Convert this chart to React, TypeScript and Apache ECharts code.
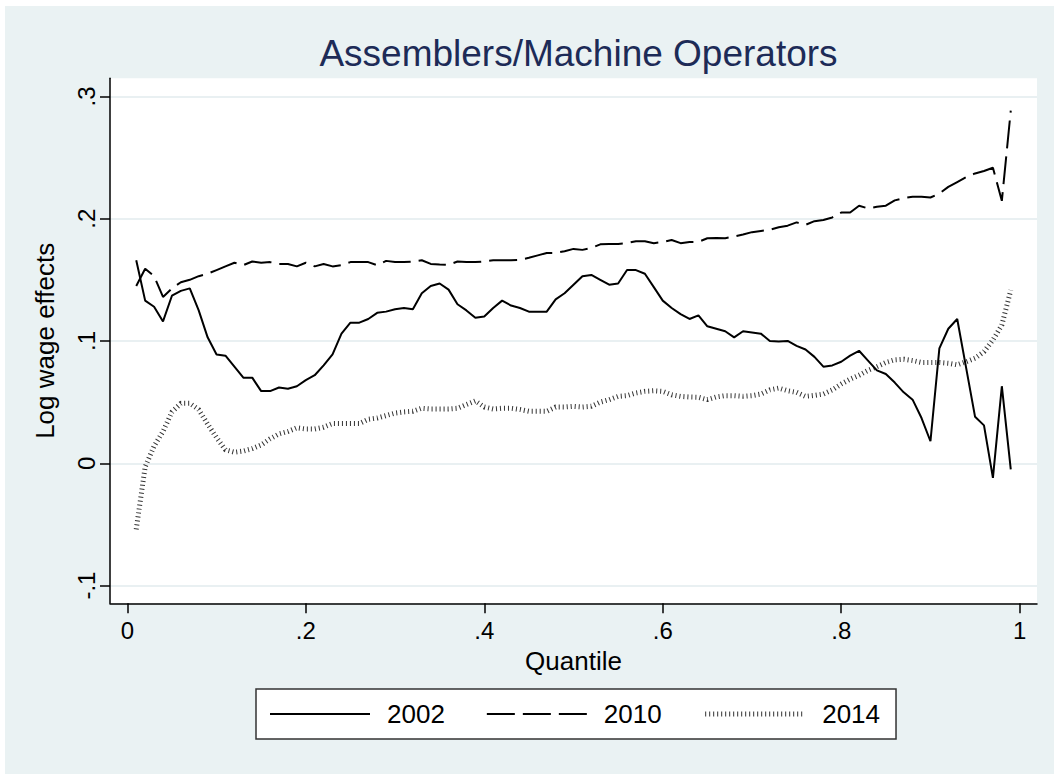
import React, { useEffect, useRef } from "react";
import * as echarts from "echarts";

const quantiles = [
  0.01, 0.02, 0.03, 0.04, 0.05, 0.06, 0.07, 0.08, 0.09, 0.1,
  0.11, 0.12, 0.13, 0.14, 0.15, 0.16, 0.17, 0.18, 0.19, 0.2,
  0.21, 0.22, 0.23, 0.24, 0.25, 0.26, 0.27, 0.28, 0.29, 0.3,
  0.31, 0.32, 0.33, 0.34, 0.35, 0.36, 0.37, 0.38, 0.39, 0.4,
  0.41, 0.42, 0.43, 0.44, 0.45, 0.46, 0.47, 0.48, 0.49, 0.5,
  0.51, 0.52, 0.53, 0.54, 0.55, 0.56, 0.57, 0.58, 0.59, 0.6,
  0.61, 0.62, 0.63, 0.64, 0.65, 0.66, 0.67, 0.68, 0.69, 0.7,
  0.71, 0.72, 0.73, 0.74, 0.75, 0.76, 0.77, 0.78, 0.79, 0.8,
  0.81, 0.82, 0.83, 0.84, 0.85, 0.86, 0.87, 0.88, 0.89, 0.9,
  0.91, 0.92, 0.93, 0.94, 0.95, 0.96, 0.97, 0.98, 0.99,
];

const y2002 = [
  0.166, 0.133, 0.128, 0.116, 0.137, 0.141, 0.143, 0.125, 0.103, 0.089,
  0.088, 0.079, 0.07, 0.07, 0.059, 0.059, 0.062, 0.061, 0.063, 0.068,
  0.072, 0.08, 0.089, 0.106, 0.115, 0.115, 0.118, 0.123, 0.124, 0.126,
  0.127, 0.126, 0.139, 0.145, 0.147, 0.142, 0.13, 0.125, 0.119, 0.12,
  0.127, 0.133, 0.129, 0.127, 0.124, 0.124, 0.124, 0.134, 0.139, 0.146,
  0.153, 0.154, 0.15, 0.146, 0.147, 0.158, 0.158, 0.155, 0.144, 0.133,
  0.127, 0.122, 0.118, 0.121, 0.112, 0.11, 0.108, 0.103, 0.108, 0.107,
  0.106, 0.1, 0.0995, 0.1, 0.096, 0.093, 0.087, 0.079, 0.08, 0.083,
  0.088, 0.092, 0.084, 0.076, 0.073, 0.066, 0.058, 0.052, 0.037, 0.018,
  0.094, 0.11, 0.118, 0.078, 0.038, 0.031, -0.012, 0.063, -0.005,
];

const y2010 = [
  0.145, 0.159, 0.153, 0.136, 0.143, 0.148, 0.15, 0.153, 0.155, 0.158,
  0.161, 0.164, 0.162, 0.165, 0.164, 0.1645, 0.163, 0.163, 0.161, 0.164,
  0.161, 0.163, 0.161, 0.162, 0.1645, 0.1645, 0.1645, 0.162, 0.1655, 0.1645,
  0.1645, 0.165, 0.166, 0.163, 0.1626, 0.1623, 0.165, 0.1645, 0.1645, 0.165,
  0.166, 0.166, 0.166, 0.1664, 0.168, 0.17, 0.172, 0.172, 0.1734, 0.1753,
  0.1745, 0.176, 0.179, 0.1794, 0.1794, 0.18, 0.1816, 0.1816, 0.18, 0.181,
  0.1826, 0.18, 0.181, 0.181, 0.184, 0.1843, 0.184, 0.1854, 0.187, 0.189,
  0.19, 0.191, 0.193, 0.1943, 0.197, 0.195, 0.198, 0.199, 0.201, 0.205,
  0.205, 0.2106, 0.2084, 0.2097, 0.2106, 0.215, 0.2168, 0.218, 0.218, 0.2173,
  0.2206, 0.226, 0.23, 0.234, 0.237, 0.239, 0.2417, 0.2146, 0.2884,
];

const y2014 = [
  -0.054, -0.003, 0.014, 0.026, 0.042, 0.049, 0.049, 0.044, 0.032, 0.021,
  0.011, 0.009, 0.01, 0.012, 0.015, 0.02, 0.024, 0.026, 0.029, 0.028,
  0.028, 0.0295, 0.0325, 0.0325, 0.0325, 0.0325, 0.036, 0.037, 0.039, 0.041,
  0.042, 0.0425, 0.045, 0.0444, 0.0444, 0.0444, 0.045, 0.048, 0.051, 0.046,
  0.0444, 0.045, 0.045, 0.044, 0.0425, 0.0425, 0.0425, 0.046, 0.046, 0.0466,
  0.046, 0.0466, 0.05, 0.052, 0.0547, 0.0553, 0.0575, 0.0588, 0.0593, 0.0588,
  0.056, 0.0547, 0.0542, 0.054, 0.052, 0.0542, 0.0553, 0.0553, 0.0547, 0.0553,
  0.0566, 0.06, 0.0615, 0.0593, 0.058, 0.0547, 0.0555, 0.0566, 0.06, 0.0648,
  0.0688, 0.072, 0.076, 0.079, 0.0824, 0.0846, 0.0851, 0.084, 0.0824, 0.0824,
  0.0824, 0.0818, 0.0805, 0.083, 0.0859, 0.0913, 0.1008, 0.113, 0.1415,
];

const seriesNames = ["2002", "2010", "2014"];
const xTickValues = [0, 0.2, 0.4, 0.6, 0.8, 1];
const xTickLabels = ["0", ".2", ".4", ".6", ".8", "1"];
const yTickValues = [-0.1, 0, 0.1, 0.2, 0.3];
const yTickLabels = ["-.1", "0", ".1", ".2", ".3"];

const FONT = "'Liberation Sans', Arial, Helvetica, sans-serif";

function labelFor(values: number[], labels: string[]) {
  return (v: number) => {
    let best = 0;
    for (let i = 1; i < values.length; i++) {
      if (Math.abs(values[i] - v) < Math.abs(values[best] - v)) best = i;
    }
    return labels[best];
  };
}

export default function App() {
  const ref = useRef<HTMLDivElement>(null);
  useEffect(() => {
    if (!ref.current) return;
    const chart = echarts.init(ref.current, null, { renderer: "svg" });
    const pair = (ys: number[]) => quantiles.map((q, i) => [q, ys[i]]);
    chart.setOption({
      animation: false,
      backgroundColor: "#eaf2f3",
      textStyle: { fontFamily: FONT },
      graphic: [
        { type: "rect", left: 0, top: 0, shape: { width: 1054, height: 6 }, style: { fill: "#ffffff" }, silent: true },
        { type: "rect", left: 0, top: 0, shape: { width: 5, height: 774 }, style: { fill: "#ffffff" }, silent: true },
      ],
      title: {
        text: "Assemblers/Machine Operators",
        left: 573.5,
        top: 30,
        textAlign: "center",
        textStyle: { fontSize: 37, fontWeight: "normal", color: "#1d2b57", fontFamily: FONT },
      },
      grid: {
        left: 110,
        right: 17,
        top: 78.3,
        bottom: 170.7,
        show: true,
        backgroundColor: "#ffffff",
        borderWidth: 0,
        containLabel: false,
      },
      legend: {
        left: 256,
        top: 689,
        orient: "horizontal",
        backgroundColor: "#ffffff",
        borderColor: "#333333",
        borderWidth: 1.5,
        borderRadius: 0,
        padding: [12, 16, 12, 13],
        itemWidth: 100,
        itemHeight: 14,
        itemGap: 41,
        itemStyle: { opacity: 0 },
        lineStyle: { width: "inherit" },
        data: seriesNames,
        textStyle: { fontSize: 26, color: "#000", fontFamily: FONT, padding: [0, 0, 0, 12] },
      },
      xAxis: {
        type: "value",
        min: -0.0194,
        max: 1.0194,
        name: "Quantile",
        nameLocation: "middle",
        nameGap: 45,
        nameTextStyle: { fontSize: 26, color: "#000", fontFamily: FONT },
        axisLine: { show: true, onZero: false, lineStyle: { color: "#000", width: 1.5 } },
        axisTick: { show: true, length: 10, customValues: xTickValues, lineStyle: { color: "#000", width: 1.5 } },
        axisLabel: {
          customValues: xTickValues,
          formatter: labelFor(xTickValues, xTickLabels),
          fontSize: 24,
          color: "#000",
          margin: 15,
          fontFamily: FONT,
        },
        splitLine: { show: false },
      },
      yAxis: {
        type: "value",
        min: -0.1145,
        max: 0.3148,
        name: "Log wage effects",
        nameLocation: "middle",
        nameRotate: 90,
        nameGap: 52,
        nameTextStyle: { fontSize: 26, color: "#000", fontFamily: FONT },
        axisLine: { show: true, onZero: false, lineStyle: { color: "#000", width: 1.5 } },
        axisTick: { show: true, length: 10, customValues: yTickValues, lineStyle: { color: "#000", width: 1.5 } },
        axisLabel: {
          customValues: yTickValues,
          formatter: labelFor(yTickValues, yTickLabels),
          rotate: 90,
          fontSize: 24,
          color: "#000",
          margin: 12,
          fontFamily: FONT,
        },
        splitLine: { show: true, lineStyle: { color: "#e2ebee", width: 1.5 } },
      },
      series: [
        {
          name: seriesNames[0],
          type: "line",
          data: pair(y2002),
          symbol: "none",
          showSymbol: false,
          lineStyle: { color: "#000", width: 2, type: "solid" },
          itemStyle: { color: "#000" },
          z: 3,
        },
        {
          name: seriesNames[1],
          type: "line",
          data: pair(y2010),
          symbol: "none",
          showSymbol: false,
          lineStyle: { color: "#000", width: 2, type: [28, 8] },
          itemStyle: { color: "#000" },
          z: 2,
        },
        {
          name: seriesNames[2],
          type: "line",
          data: pair(y2014),
          symbol: "none",
          showSymbol: false,
          lineStyle: { color: "#333", width: 5, type: [1, 3] },
          itemStyle: { color: "#333" },
          z: 1,
        },
      ],
    });
    return () => chart.dispose();
  }, []);
  return (
    <div
      ref={ref}
      style={{ position: "fixed", left: 0, top: 0, width: 1054, height: 774 }}
    />
  );
}
